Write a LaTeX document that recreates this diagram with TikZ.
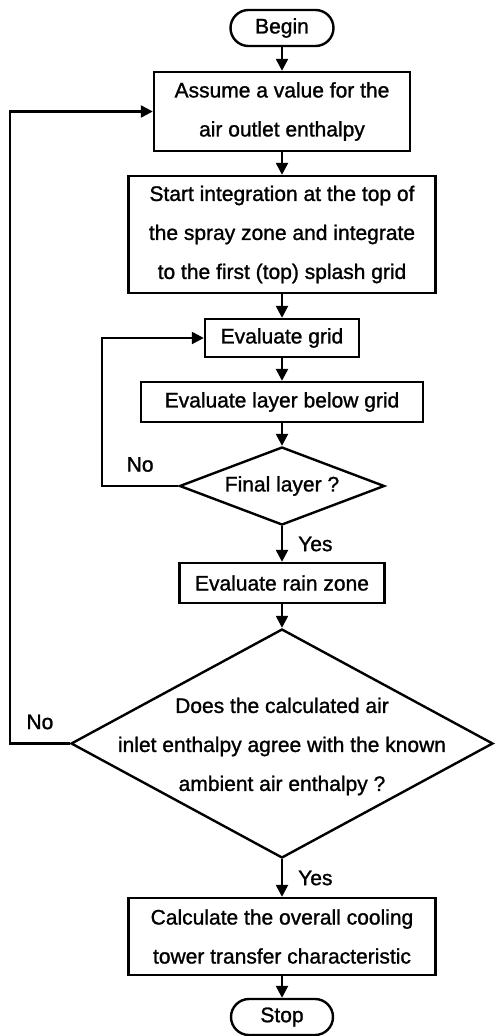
\documentclass[tikz,border=0pt]{standalone}
\usepackage{fontspec}
\setmainfont{Liberation Sans}[BoldFont={Liberation Sans}, BoldFeatures={FakeBold=1.2}]
\usepackage{tikz}
\usetikzlibrary{
  shapes.geometric,
  arrows.meta, positioning
}

\tikzset{
  terminal/.style={draw, line width=2.4pt, rounded corners=18pt, minimum height=36pt, inner sep=0pt},
  process/.style={draw, line width=2.4pt, align=center, inner sep=0pt},
  decision/.style={draw, diamond, line width=2.4pt, inner sep=0pt, align=center},
  arr/.style={line width=2.4pt, -{Triangle[length=12pt,width=12pt]}},
  lbl/.style={inner sep=3pt}
}

\begin{document}
\begin{tikzpicture}[x=1pt, y=-1pt, font=\fontsize{21}{39}\selectfont\bfseries]
    \useasboundingbox (0,0) rectangle (497,1036);

    % main column
    \node[terminal, minimum width=103pt] (begin) at (282,28) {Begin};
    \node[process, minimum width=256pt, minimum height=79pt] (assume) at (282,111.5)
      {Assume a value for the\\air outlet enthalpy};
    \node[process, minimum width=307pt, minimum height=117pt] (startint) at (282,234.5)
      {Start integration at the top of\\the spray zone and integrate\\to the first (top) splash grid};
    \node[process, minimum width=154pt, minimum height=38pt] (grid) at (282,338) {Evaluate grid};
    \node[process, minimum width=282pt, minimum height=40pt] (layer) at (282,402) {Evaluate layer below grid};
    \node[decision, aspect=2.63, minimum width=205pt, minimum height=78pt] (lastlayer) at (282,486) {Final layer ?};
    \node[process, minimum width=205pt, minimum height=40pt] (rain) at (282,583) {Evaluate rain zone};
    \node[decision, aspect=1.84, minimum width=422pt, minimum height=229pt] (agree) at (282,743.5) {};
    \node[align=center, inner sep=0pt, yshift=-3pt] (agreetext) at (agree.center)
      {Does the calculated air\\inlet enthalpy agree with the known\\ambient air enthalpy ?};
    \node[process, minimum width=307pt, minimum height=77pt] (overall) at (282,936.5)
      {Calculate the overall cooling\\tower transfer characteristic};
    \node[terminal, minimum width=102pt] (stop) at (282,1017) {Stop};

    % rails for the loops
    \coordinate (outerrail) at (10,0);
    \coordinate (innerrail) at (102,0);

    % connectors
    \draw[arr] (begin) -- (assume);
    \draw[arr] (assume) -- (startint);
    \draw[arr] (startint) -- (grid);
    \draw[arr] (grid) -- (layer);
    \draw[arr] (layer) -- (lastlayer);
    \draw[arr] (lastlayer) -- node[lbl, right=12pt] (yes1) {Yes} (rain);
    \draw[arr] (rain) -- (agree);
    \draw[arr] (agree) -- node[lbl, right=12pt] (yes2) {Yes} (overall);
    \draw[arr] (overall) -- (stop);

    \draw[arr] (lastlayer.west) -- node[lbl, above=10pt] (no1) {No} (lastlayer.west -| innerrail) |- (grid.west);
    \draw[arr] (agree.west) -- node[lbl, above=10pt] (no2) {No} (agree.west -| outerrail) |- (assume.west);
\end{tikzpicture}
\end{document}
